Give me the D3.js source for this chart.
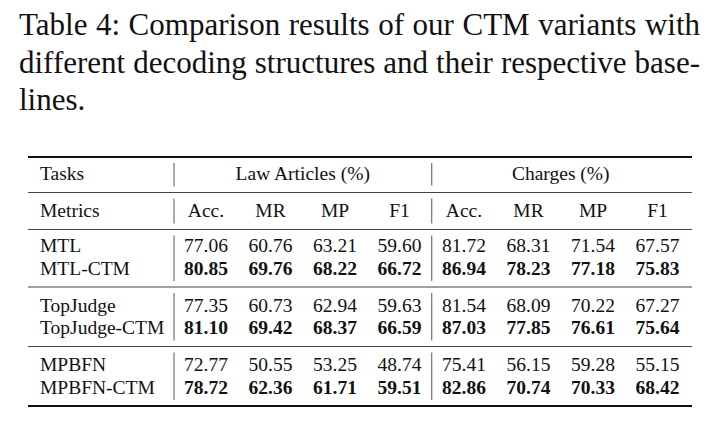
<!DOCTYPE html>
<html>
<head>
<meta charset="utf-8">
<script src="https://cdn.jsdelivr.net/npm/d3@7"></script>
<style>
  body { margin: 0; background: #fff; }
  svg { display: block; }
  text { font-family: "Liberation Serif", "Times New Roman", serif; fill: #111; }
</style>
</head>
<body>
<div id="table"></div>
<script>
// caption lines (justified like in the paper)
const caption = [
  "Table 4: Comparison results of our CTM variants with",
  "different decoding structures and their respective base-",
  "lines."
];

const tasks = ["Law Articles (%)", "Charges (%)"];
const metrics = ["Acc.", "MR", "MP", "F1"];
const groups = [["MTL", "MTL-CTM"], ["TopJudge", "TopJudge-CTM"], ["MPBFN", "MPBFN-CTM"]];

// Acc., MR, MP, F1 for law articles
const law_values = [
  [77.06, 60.76, 63.21, 59.60],
  [80.85, 69.76, 68.22, 66.72],
  [77.35, 60.73, 62.94, 59.63],
  [81.10, 69.42, 68.37, 66.59],
  [72.77, 50.55, 53.25, 48.74],
  [78.72, 62.36, 61.71, 59.51]
];
// Acc., MR, MP, F1 for charges
const charge_values = [
  [81.72, 68.31, 71.54, 67.57],
  [86.94, 78.23, 77.18, 75.83],
  [81.54, 68.09, 70.22, 67.27],
  [87.03, 77.85, 76.61, 75.64],
  [75.41, 56.15, 59.28, 55.15],
  [82.86, 70.74, 70.33, 68.42]
];

function draw_table() {
  const width = 719, height = 422;
  const svg = d3.select("#table").append("svg")
    .attr("width", width)
    .attr("height", height);

  // ---- caption ----
  const cap_left = 19, cap_right = 700;
  const cap = svg.append("g");
  caption.forEach((line, i) => {
    const t = cap.append("text")
      .attr("x", cap_left)
      .attr("y", 35 + i * 37.5)
      .style("font-size", "31px")
      .text(line);
    if (i < caption.length - 1) {
      const natural = t.node().getComputedTextLength();
      const gaps = line.split(" ").length - 1;
      t.style("word-spacing", `${(cap_right - cap_left - natural) / gaps}px`);
    }
  });

  // ---- table layout ----
  const table_left = 28, table_right = 692;
  const font_size = 19.5;
  const cols = [];
  tasks.forEach(task => metrics.forEach(m => cols.push(`${task}|${m}`)));
  const x = d3.scalePoint().domain(cols).range([206, 657.5]);
  const sep_x = [table_left + 146, (x(cols[3]) + x(cols[4])) / 2];

  // baselines: header rows then data groups
  const header_y = [180, 217];
  const y_group = d3.scaleLinear().domain([0, 1]).range([252, 311.5]);
  const row_step = 22.5;
  const rows = [];
  groups.forEach((g, gi) => g.forEach((name, ri) => {
    rows.push({name, group: gi, y: y_group(gi) + ri * row_step});
  }));
  rows.forEach((r, i) => {
    r.law = law_values[i];
    r.charge = charge_values[i];
  });

  // rules sit just under each block's last baseline
  const rule_gap = 12.5;
  const rule_ys = [header_y[0] - 23, header_y[0] + rule_gap, header_y[1] + rule_gap];
  groups.forEach((g, gi) => {
    const last = rows.filter(r => r.group === gi).slice(-1)[0];
    rule_ys.push(last.y + rule_gap);
  });

  svg.selectAll("line.rule")
    .data(rule_ys)
    .join("line")
    .attr("class", "rule")
    .attr("x1", table_left)
    .attr("x2", table_right)
    .attr("y1", d => d)
    .attr("y2", d => d)
    .attr("stroke", (d, i) => (i === 0 || i === rule_ys.length - 1) ? "#111" : "#444")
    .attr("stroke-width", (d, i) => (i === 0 || i === rule_ys.length - 1) ? 2 : 1);

  // vertical separators, broken at each rule
  const segments = [];
  for (let i = 0; i < rule_ys.length - 1; i++) {
    sep_x.forEach((sx, k) => {
      if (i === 0 && k === 1) {
        segments.push({x: sx, y1: rule_ys[i] + 6, y2: rule_ys[i + 1] - 7});
      } else {
        segments.push({x: sx, y1: rule_ys[i] + 6, y2: rule_ys[i + 1] - 6});
      }
    });
  }
  svg.selectAll("line.sep")
    .data(segments)
    .join("line")
    .attr("class", "sep")
    .attr("x1", d => d.x)
    .attr("x2", d => d.x)
    .attr("y1", d => d.y1)
    .attr("y2", d => d.y2)
    .attr("stroke", "#555")
    .attr("stroke-width", 1);

  const label_x = 40;

  // header row 1
  svg.append("text")
    .attr("x", label_x).attr("y", header_y[0])
    .style("font-size", `${font_size}px`)
    .text("Tasks");
  svg.selectAll("text.task")
    .data(tasks)
    .join("text")
    .attr("class", "task")
    .attr("x", (d, i) => (x(cols[i * 4]) + x(cols[i * 4 + 3])) / 2)
    .attr("y", header_y[0])
    .attr("text-anchor", "middle")
    .style("font-size", `${font_size}px`)
    .text(d => d);

  // header row 2
  svg.append("text")
    .attr("x", label_x).attr("y", header_y[1])
    .style("font-size", `${font_size}px`)
    .text("Metrics");
  svg.selectAll("text.metric")
    .data(cols)
    .join("text")
    .attr("class", "metric")
    .attr("x", d => x(d))
    .attr("y", header_y[1])
    .attr("text-anchor", "middle")
    .style("font-size", `${font_size}px`)
    .text(d => d.split("|")[1]);

  // data rows
  const row_g = svg.selectAll("g.row")
    .data(rows)
    .join("g")
    .attr("class", "row")
    .attr("transform", d => `translate(0, ${d.y})`);

  row_g.append("text")
    .attr("x", label_x)
    .style("font-size", `${font_size}px`)
    .text(d => d.name);

  row_g.each(function(r, i) {
    const vals = r.law.concat(r.charge);
    const partner = rows[r.group * 2 + (i % 2 === 0 ? 1 : 0)];
    const partner_vals = partner.law.concat(partner.charge);
    d3.select(this).selectAll("text.val")
      .data(vals)
      .join("text")
      .attr("class", "val")
      .attr("x", (d, j) => x(cols[j]))
      .attr("text-anchor", "middle")
      .style("font-size", `${font_size}px`)
      .style("font-weight", (d, j) => d > partner_vals[j] ? "bold" : "normal")
      .text(d => d.toFixed(2));
  });
}
draw_table();
</script>
</body>
</html>
